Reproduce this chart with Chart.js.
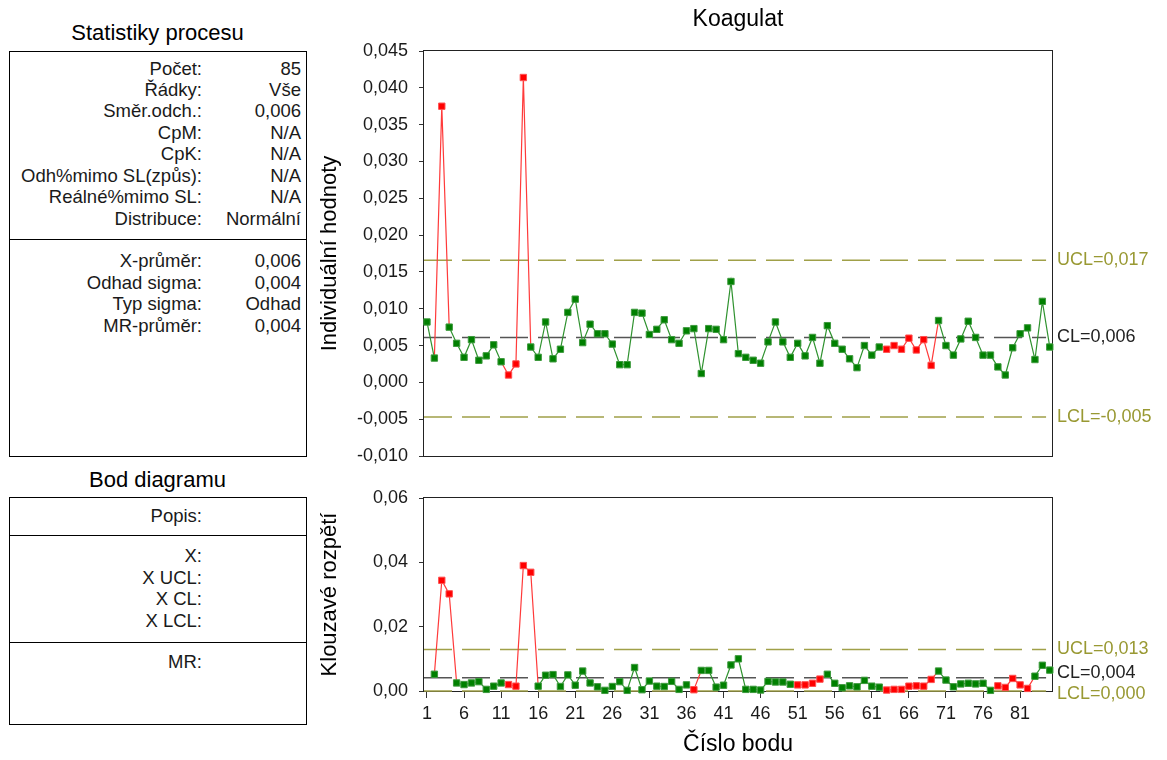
<!DOCTYPE html>
<html lang="cs">
<head>
<meta charset="UTF-8">
<title>Koagulat</title>
<script src="https://cdn.jsdelivr.net/npm/chart.js"></script>
<style>
  body { margin: 0; background: #fff; font-family: "Liberation Sans", Arial, sans-serif; color: #1a1a1a; }
  #page { position: relative; width: 1167px; height: 760px; overflow: hidden; }
  .ptitle { position: absolute; left: 9px; width: 297px; text-align: center; font-size: 22px; line-height: 26px; color: #000; }
  .box { position: absolute; left: 9px; width: 298px; box-sizing: border-box; border: 1px solid #000; }
  .sep { position: absolute; left: 9px; width: 298px; height: 1px; background: #000; }
  .group { position: absolute; left: 9px; width: 297px; font-size: 18.5px; }
  .row { display: flex; height: 21.43px; line-height: 21.43px; white-space: nowrap; }
  .row .k { width: 193px; text-align: right; }
  .row .v { width: 99px; text-align: right; }
  canvas { position: absolute; }
</style>
</head>
<body>
<div id="page">
  <div class="ptitle" style="top:20px">Statistiky procesu</div>
  <div class="box" style="top:51px;height:406px"></div>
  <div class="sep" style="top:239px"></div>
  <div class="group" id="stats" style="top:57.6px"></div>
  <div class="group" id="sigma" style="top:250.3px"></div>

  <div class="ptitle" style="top:467px">Bod diagramu</div>
  <div class="box" style="top:497px;height:228px"></div>
  <div class="sep" style="top:535px"></div>
  <div class="sep" style="top:642px"></div>
  <div class="group" id="popis" style="top:505px"></div>
  <div class="group" id="xinfo" style="top:545.3px"></div>
  <div class="group" id="mrinfo" style="top:651px"></div>

  <canvas id="indivChart" width="857" height="470" style="left:310px;top:0"></canvas>
  <canvas id="mrChart" width="857" height="290" style="left:310px;top:470px"></canvas>
</div>

<script>
// --- panel texts ---
const statLabels = ["Počet:", "Řádky:", "Směr.odch.:", "CpM:", "CpK:", "Odh%mimo SL(způs):", "Reálné%mimo SL:", "Distribuce:"];
const statValues = ["85", "Vše", "0,006", "N/A", "N/A", "N/A", "N/A", "Normální"];
const sigmaLabels = ["X-průměr:", "Odhad sigma:", "Typ sigma:", "MR-průměr:"];
const sigmaValues = ["0,006", "0,004", "Odhad", "0,004"];
const popisLabels = ["Popis:"];
const xInfoLabels = ["X:", "X UCL:", "X CL:", "X LCL:"];
const mrInfoLabels = ["MR:"];

// --- chart data ---
const pointNo = Array.from({ length: 85 }, (_, i) => i + 1);
const indivValues = [
  0.0082, 0.0033, 0.0375, 0.0075, 0.0053, 0.0034, 0.0058, 0.0030, 0.0036, 0.0051,
  0.0028, 0.0010, 0.0025, 0.0414, 0.0048, 0.0034, 0.0082, 0.0032, 0.0045, 0.0095,
  0.0113, 0.0054, 0.0079, 0.0066, 0.0066, 0.0052, 0.0024, 0.0024, 0.0095, 0.0094,
  0.0065, 0.0072, 0.0085, 0.0058, 0.0053, 0.0070, 0.0073, 0.0012, 0.0073, 0.0072,
  0.0058, 0.0137, 0.0039, 0.0034, 0.0030, 0.0026, 0.0055, 0.0082, 0.0055, 0.0034,
  0.0053, 0.0036, 0.0061, 0.0026, 0.0077, 0.0053, 0.0045, 0.0032, 0.0020, 0.0050,
  0.0037, 0.0048, 0.0045, 0.0050, 0.0045, 0.0060, 0.0044, 0.0058, 0.0023, 0.0084,
  0.0050, 0.0037, 0.0059, 0.0083, 0.0061, 0.0037, 0.0037, 0.0021, 0.0010, 0.0047,
  0.0066, 0.0074, 0.0031, 0.0110, 0.0048
];
// moving range, points 2..85
const mrValues = [
  0.0052, 0.0344, 0.0302, 0.0025, 0.0020, 0.0025, 0.0029, 0.0005, 0.0015,
  0.0025, 0.0020, 0.0015, 0.0390, 0.0369, 0.0015, 0.0049, 0.0051, 0.0014, 0.0050,
  0.0018, 0.0062, 0.0025, 0.0013, 0.0002, 0.0014, 0.0029, 0.0002, 0.0073, 0.0004,
  0.0031, 0.0015, 0.0014, 0.0030, 0.0005, 0.0019, 0.0004, 0.0064, 0.0064, 0.0012,
  0.0018, 0.0081, 0.0100, 0.0005, 0.0005, 0.0003, 0.0030, 0.0028, 0.0028, 0.0021,
  0.0019, 0.0019, 0.0024, 0.0037, 0.0052, 0.0024, 0.0010, 0.0016, 0.0013, 0.0033,
  0.0015, 0.0012, 0.0003, 0.0005, 0.0005, 0.0015, 0.0016, 0.0015, 0.0036, 0.0062,
  0.0034, 0.0013, 0.0022, 0.0024, 0.0022, 0.0024, 0.0002, 0.0016, 0.0011, 0.0039,
  0.0019, 0.0008, 0.0046, 0.0080, 0.0065
];
const indivRed = [3, 12, 13, 14, 63, 64, 65, 66, 67, 68, 69];
const mrRed = [3, 4, 12, 13, 14, 15, 37, 51, 52, 53, 54, 63, 64, 65, 66, 67, 68, 69, 78, 79, 80, 81, 82];

const indivLimits = [0.0166, 0.0061, -0.0047];
const indivLimitLabels = ["UCL=0,017", "CL=0,006", "LCL=-0,005"];
const mrLimits = [0.0129, 0.0041, 0];
const mrLimitLabels = ["UCL=0,013", "CL=0,004", "LCL=0,000"];

const indivTicks = [-0.010, -0.005, 0.000, 0.005, 0.010, 0.015, 0.020, 0.025, 0.030, 0.035, 0.040, 0.045];
const mrTicks = [0.00, 0.02, 0.04, 0.06];
const xTicks = [1, 6, 11, 16, 21, 26, 31, 36, 41, 46, 51, 56, 61, 66, 71, 76, 81];

// fill panels
function fillGroup(id, labels, values) {
  const el = document.getElementById(id);
  labels.forEach((l, i) => {
    const row = document.createElement("div");
    row.className = "row";
    row.innerHTML = '<span class="k"></span><span class="v"></span>';
    row.children[0].textContent = l;
    row.children[1].textContent = values ? values[i] : "";
    el.appendChild(row);
  });
}
fillGroup("stats", statLabels, statValues);
fillGroup("sigma", sigmaLabels, sigmaValues);
fillGroup("popis", popisLabels);
fillGroup("xinfo", xInfoLabels);
fillGroup("mrinfo", mrInfoLabels);

// --- styling ---
const FONT = '"Liberation Sans", Arial, sans-serif';
Chart.defaults.font.family = FONT;
Chart.defaults.font.size = 18;
Chart.defaults.color = "#1a1a1a";

const GREEN = "#008000", GREEN_LINE = "#2f922f", GREEN_EDGE = "#3d9a3d";
const RED = "#ff0000", RED_LINE = "#ff3a3a", RED_EDGE = "#ff5050";
const OLIVE = "#a0a048", OLIVE_TEXT = "#999933", CL_COLOR = "#555555";
const X_MIN = 0.6, X_MAX = 85.3;

const framePlugin = {
  id: "frame",
  beforeDatasetsDraw(chart) {
    const { ctx, chartArea: a } = chart;
    ctx.save();
    ctx.strokeStyle = "#222";
    ctx.lineWidth = 1;
    const l = Math.round(a.left) - 0.5, t = Math.round(a.top) - 0.5;
    ctx.strokeRect(l, t, Math.round(a.right) - Math.round(a.left) + 1, Math.round(a.bottom) - Math.round(a.top) + 1);
    ctx.restore();
  }
};

const limitLabelPlugin = {
  id: "limitLabels",
  afterDraw(chart, args, opts) {
    const { ctx, chartArea, scales } = chart;
    ctx.save();
    ctx.font = "18px " + FONT;
    ctx.textBaseline = "middle";
    ctx.textAlign = "left";
    opts.values.forEach((v, i) => {
      ctx.fillStyle = opts.colors[i];
      ctx.fillText(opts.labels[i], chartArea.right + 5, scales.y.getPixelForValue(v) + (opts.shift[i] || 0));
    });
    ctx.restore();
  }
};

function seriesDataset(xs, ys, redList) {
  const isRed = xs.map(n => redList.includes(n));
  return {
    data: ys.map((v, i) => ({ x: xs[i], y: v })),
    borderWidth: 1.2,
    borderColor: GREEN_LINE,
    segment: {
      borderColor: c => (isRed[c.p0DataIndex] || isRed[c.p1DataIndex]) ? RED_LINE : GREEN_LINE
    },
    pointStyle: "rect",
    pointRadius: 4.5,
    pointBorderWidth: 1,
    pointBackgroundColor: isRed.map(r => r ? RED : GREEN),
    pointBorderColor: isRed.map(r => r ? RED_EDGE : GREEN_EDGE),
    tension: 0,
    clip: false
  };
}

function limitDataset(value, color) {
  return {
    data: [{ x: X_MIN, y: value }, { x: X_MAX - 0.8, y: value }],
    borderColor: color,
    borderWidth: 1.5,
    borderDash: [28, 10],
    pointRadius: 0,
    clip: false
  };
}

function yTitle(text) {
  return { display: true, text: text, font: { size: 22 }, color: "#000", padding: { top: 7, bottom: 0 } };
}

// fixed width for the value axis; its label overhang must not shrink the plot
function fixYAxis(s) {
  s.width = 114;
  s.paddingTop = 0;
  s.paddingBottom = 0;
}

// Individual values chart
new Chart(document.getElementById("indivChart"), {
  type: "line",
  data: {
    datasets: [
      seriesDataset(pointNo, indivValues, indivRed),
      limitDataset(indivLimits[0], OLIVE),
      limitDataset(indivLimits[1], CL_COLOR),
      limitDataset(indivLimits[2], OLIVE)
    ]
  },
  options: {
    responsive: false,
    animation: false,
    events: [],
    layout: { autoPadding: false, padding: { left: 0, right: 115, top: 0, bottom: 0 } },
    plugins: {
      legend: { display: false },
      tooltip: { enabled: false },
      title: {
        display: true, text: "Koagulat", fullSize: false,
        font: { size: 23, weight: "normal" }, color: "#000",
        padding: { top: 6, bottom: 17.4 }
      },
      limitLabels: {
        values: indivLimits, labels: indivLimitLabels,
        colors: [OLIVE_TEXT, "#222", OLIVE_TEXT], shift: [0, 0, 0]
      }
    },
    scales: {
      x: {
        type: "linear", min: X_MIN, max: X_MAX,
        ticks: { display: false },
        grid: { display: false },
        border: { display: false },
        afterFit: s => { s.height = 14; }
      },
      y: {
        min: -0.010, max: 0.045,
        afterBuildTicks: s => { s.ticks = indivTicks.map(v => ({ value: v })); },
        ticks: { padding: 11, callback: v => v.toFixed(3).replace(".", ",") },
        grid: { drawOnChartArea: false, drawTicks: true, tickLength: 5, color: "#333" },
        border: { display: false },
        title: yTitle("Individuální hodnoty"),
        afterFit: fixYAxis
      }
    }
  },
  plugins: [framePlugin, limitLabelPlugin]
});

// Moving range chart
new Chart(document.getElementById("mrChart"), {
  type: "line",
  data: {
    datasets: [
      seriesDataset(pointNo.slice(1), mrValues, mrRed),
      limitDataset(mrLimits[0], OLIVE),
      limitDataset(mrLimits[1], CL_COLOR),
      limitDataset(mrLimits[2], OLIVE)
    ]
  },
  options: {
    responsive: false,
    animation: false,
    events: [],
    layout: { autoPadding: false, padding: { left: 0, right: 115, top: 28, bottom: 0 } },
    plugins: {
      legend: { display: false },
      tooltip: { enabled: false },
      limitLabels: {
        values: mrLimits, labels: mrLimitLabels,
        colors: [OLIVE_TEXT, "#222", OLIVE_TEXT], shift: [0, -5, 3]
      }
    },
    scales: {
      x: {
        type: "linear", min: X_MIN, max: X_MAX,
        afterBuildTicks: s => { s.ticks = xTicks.map(v => ({ value: v })); },
        ticks: { autoSkip: false, maxRotation: 0, padding: 5 },
        grid: { drawOnChartArea: false, drawTicks: true, tickLength: 7, color: "#333" },
        border: { display: false },
        title: { display: true, text: "Číslo bodu", font: { size: 23 }, color: "#000", padding: { top: 0, bottom: 2 } },
        afterFit: s => { s.height = 69; }
      },
      y: {
        min: 0, max: 0.06,
        afterBuildTicks: s => { s.ticks = mrTicks.map(v => ({ value: v })); },
        ticks: { padding: 11, callback: v => v.toFixed(2).replace(".", ",") },
        grid: { drawOnChartArea: false, drawTicks: true, tickLength: 5, color: "#333" },
        border: { display: false },
        title: yTitle("Klouzavé rozpětí"),
        afterFit: fixYAxis
      }
    }
  },
  plugins: [framePlugin, limitLabelPlugin]
});
</script>
</body>
</html>
